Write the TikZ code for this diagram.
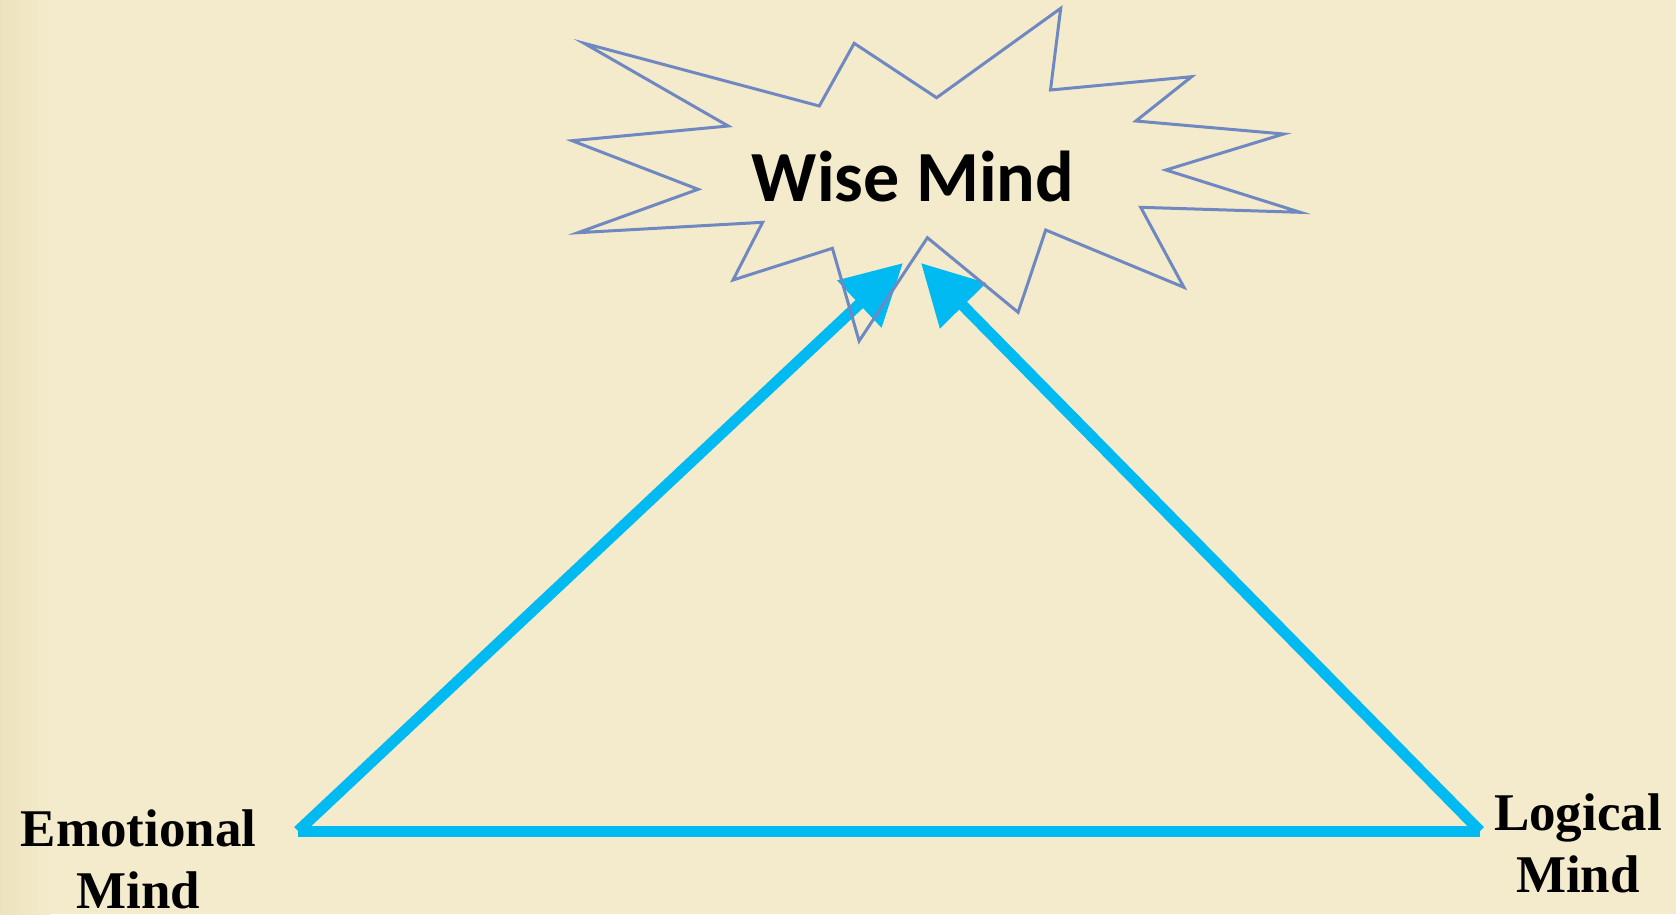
\documentclass[tikz,border=0pt]{standalone}
\usepackage{fontspec}
\setmainfont{Liberation Serif}
\newfontfamily\wisefont{Carlito}
\usetikzlibrary{arrows.meta}
\definecolor{bg}{HTML}{F3EBCB}
\definecolor{bgdark}{HTML}{EDE2BD}
\definecolor{cyanarrow}{HTML}{00BAF1}
\definecolor{burstcol}{HTML}{7088C2}
\begin{document}
\begin{tikzpicture}[x=1pt,y=-1pt,
  arrowline/.style={draw=cyanarrow,line width=11pt,
    -{Triangle[length=60pt,width=62pt]}},
  baseline/.style={draw=cyanarrow,line width=11pt},
  burstline/.style={draw=burstcol,line width=3pt,line join=miter},
  label/.style={inner sep=0pt,align=center,font=\fontsize{53}{62}\selectfont\bfseries},
  wiselabel/.style={inner sep=0pt,font=\wisefont\fontsize{72}{80}\selectfont\bfseries}]
\useasboundingbox (0,0) rectangle (1676,914);
\fill[bg] (0,0) rectangle (1676,914);
\shade[left color=bgdark,right color=bg] (0,0) rectangle (50,914);
% corners
\coordinate (E) at (298,831);
\coordinate (L) at (1480,831);
\coordinate (T1) at (903,263);
\coordinate (T2) at (921,263);
% connectors
\draw[baseline] (E) -- (L);
\draw[arrowline] (E) -- (T1);
\draw[arrowline] (L) -- (T2);
% starburst
\draw[burstline] (584.2,43.3) -- (819.3,106) -- (854.2,43.3) -- (936.6,97.7)
  -- (1060.7,8.3) -- (1050.5,90) -- (1191.6,76.7) -- (1135.9,121)
  -- (1283.7,134) -- (1165.9,170) -- (1300.2,212.3) -- (1140.7,207.3)
  -- (1183.9,287.3) -- (1045.7,230) -- (1018.1,312.3) -- (927.4,237.7)
  -- (859.1,341) -- (832.4,248.3) -- (733,280) -- (762.6,222.3)
  -- (577.9,232.7) -- (698.1,189.3) -- (572.1,140.7) -- (728.2,126) -- cycle;
\node[wiselabel,anchor=base] (wise) at (913,201.5) {Wise Mind};
\node[label,anchor=base] (emo) at (138.5,908) {Emotional\\Mind};
\node[label,anchor=base] (logi) at (1578,892) {Logical\\Mind};
\end{tikzpicture}
\end{document}
